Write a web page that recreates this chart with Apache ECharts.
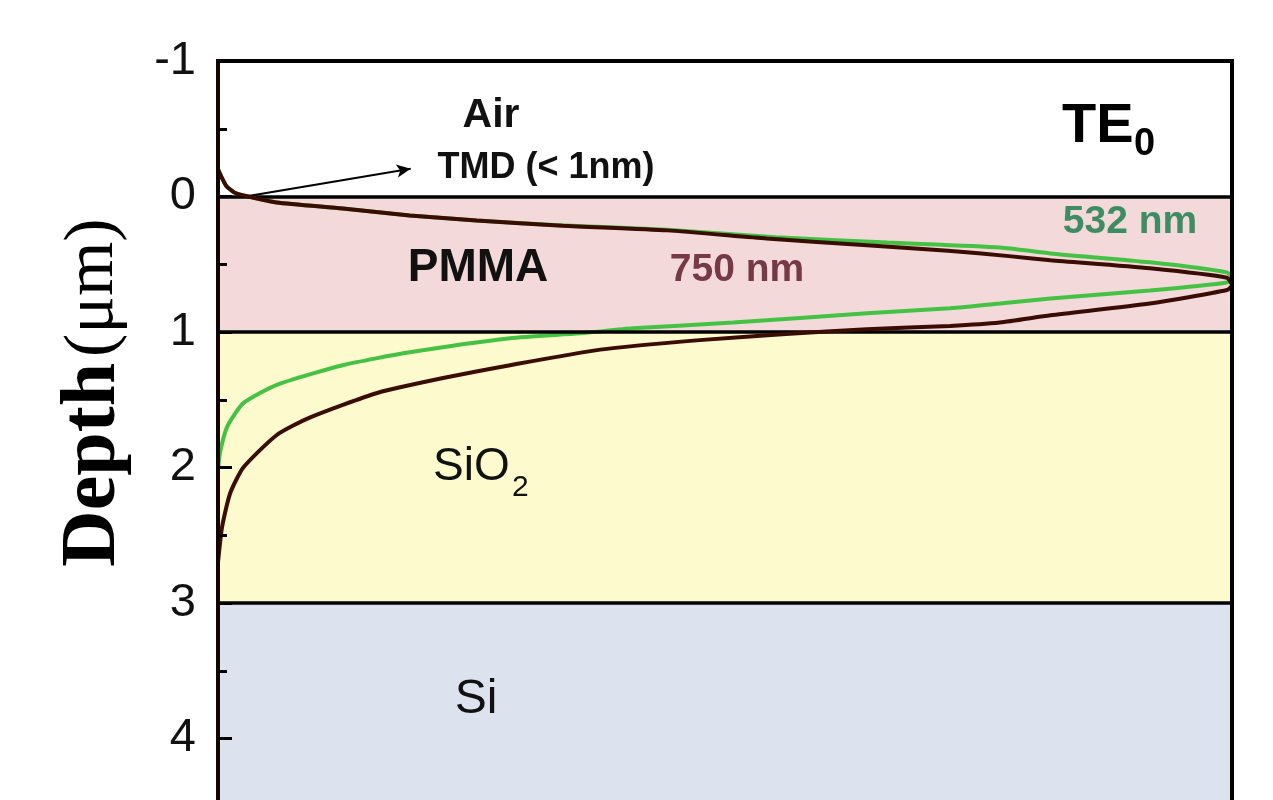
<!DOCTYPE html>
<html><head><meta charset="utf-8">
<script src="https://cdn.jsdelivr.net/npm/echarts@6/dist/echarts.min.js"></script>
<style>html,body{margin:0;padding:0;background:#fff}#c{width:1273px;height:800px}</style>
</head><body><div id="c"></div>
<script>
// ---- data ----
const yTickValues = [-1, 0, 1, 2, 3, 4];
const layerNames = ['Air', 'PMMA', 'SiO2', 'Si'];
const layerTop = [-1, 0, 1, 3];
const layerBottom = [0, 1, 3, 5];
const boundaries = [0, 1, 3];

// 750 nm TE0 profile: depth (µm) and normalised field
const depth750 = [-0.20, -0.15, -0.08, -0.03, 0.00, 0.044, 0.088, 0.14, 0.177, 0.215, 0.25, 0.31, 0.36, 0.40, 0.44, 0.47, 0.53, 0.60, 0.655,
                  0.69, 0.79, 0.877, 0.93, 0.955, 0.98, 1.015, 1.06, 1.13, 1.245, 1.34, 1.45, 1.63, 1.76, 2.00, 2.19, 2.44, 2.70];
const field750 = [0.000, 0.003, 0.008, 0.016, 0.030, 0.058, 0.123, 0.189, 0.255, 0.340, 0.443, 0.541, 0.640, 0.720, 0.780, 0.821, 0.919, 0.995, 1.000,
                  0.995, 0.919, 0.821, 0.771, 0.722, 0.640, 0.560, 0.475, 0.377, 0.288, 0.222, 0.157, 0.091, 0.058, 0.025, 0.012, 0.004, 0.000];

// 532 nm TE0 profile
const depth532 = [-0.20, -0.15, -0.08, -0.03, 0.00, 0.044, 0.088, 0.14, 0.177, 0.21, 0.245, 0.30, 0.34, 0.376, 0.42, 0.486, 0.56, 0.60,
                  0.634, 0.693, 0.752, 0.79, 0.825, 0.862, 0.93, 0.973, 1.01, 1.046, 1.15, 1.245, 1.39, 1.525, 1.70, 1.89, 2.02];
const field532 = [0.000, 0.003, 0.008, 0.016, 0.030, 0.058, 0.123, 0.189, 0.255, 0.330, 0.443, 0.550, 0.660, 0.771, 0.821, 0.919, 0.995, 1.000,
                  0.995, 0.919, 0.821, 0.771, 0.722, 0.640, 0.508, 0.409, 0.357, 0.288, 0.189, 0.123, 0.058, 0.025, 0.009, 0.002, 0.000];

const layerColors = ['#ffffff', '#f3d9d9', '#fdfbcd', '#dce3ef'];
const pairs = (xs, ys) => xs.map((d, i) => [ys[i], d]);

const chart = echarts.init(document.getElementById('c'), null, {renderer: 'canvas'});
const sans = '"Liberation Sans", Arial, sans-serif';
const narrow = '"Liberation Sans Narrow", "Liberation Sans", Arial, sans-serif';
const serif = '"Liberation Serif", "Times New Roman", serif';

chart.setOption({
  animation: false,
  backgroundColor: '#ffffff',
  grid: {left: 218, right: 41, top: 61, bottom: -74, show: true, z: 10, borderColor: '#000', borderWidth: 4,
         backgroundColor: 'transparent', outerBoundsMode: 'none', containLabel: false},
  xAxis: {type: 'value', min: 0, max: 1, show: false},
  yAxis: {
    type: 'value', inverse: true, min: -1, max: 5, interval: 1, z: 11,
    axisLine: {show: true, lineStyle: {color: '#140400', width: 4}},
    axisTick: {show: true, inside: true, length: 14, lineStyle: {color: '#000', width: 3}},
    minorTick: {show: true, splitNumber: 2, length: 9, lineStyle: {color: '#000', width: 3}},
    splitLine: {show: false},
    axisLabel: {
      fontSize: 47, color: '#111', margin: 22, fontFamily: sans,
      formatter: v => yTickValues.indexOf(v) >= 0 ? String(v) : ''
    },
    name: '{b|Depth}{r|(μm)}',
    nameLocation: 'middle', nameRotate: 90, nameGap: 85,
    nameTextStyle: {
      padding: [0, 0, 0, 150],
      rich: {
        b: {fontFamily: serif, fontWeight: 'bold', fontSize: 78, color: '#000'},
        r: {fontFamily: serif, fontSize: 70, color: '#000', padding: [0, 0, 0, 6]}
      }
    }
  },
  series: [
    {
      type: 'line', name: 'layers', data: [], z: 1, silent: true,
      markArea: {
        silent: true,
        data: layerNames.map((n, i) => [
          {yAxis: layerTop[i], itemStyle: {color: layerColors[i], opacity: 1}},
          {yAxis: layerBottom[i]}
        ])
      }
    },
    {
      type: 'line', name: '532 nm', data: pairs(depth532, field532), z: 4,
      showSymbol: false, smooth: 0.2,
      lineStyle: {color: '#44c244', width: 4}
    },
    {
      type: 'line', name: '750 nm', data: pairs(depth750, field750), z: 5,
      showSymbol: false, smooth: 0.2,
      lineStyle: {color: '#3a0c04', width: 4}
    },
    {
      type: 'line', name: 'boundaries', data: [], z: 6, silent: true,
      markLine: {
        silent: true, symbol: ['none', 'none'], label: {show: false},
        lineStyle: {color: '#000', width: 3.5, type: 'solid'},
        data: boundaries.map(b => ({yAxis: b}))
      }
    },
    {
      type: 'line', name: 'arrow', data: [], z: 7, silent: true,
      markLine: {
        silent: true, symbol: ['none', 'arrow'], symbolSize: [10, 14], label: {show: false},
        lineStyle: {color: '#000', width: 2, type: 'solid'},
        data: [[{coord: [0.027, 0.0]}, {coord: [0.19, -0.205]}]]
      }
    }
  ],
  graphic: [
    {type: 'text', x: 491, y: 116, z: 100, style: {text: 'Air', font: 'bold 41px ' + sans, fill: '#111', align: 'center', verticalAlign: 'middle'}},
    {type: 'text', x: 546, y: 168, z: 100, style: {text: 'TMD (< 1nm)', font: 'bold 36px ' + narrow, fill: '#111', align: 'center', verticalAlign: 'middle'}},
    {type: 'text', x: 1062, y: 127, z: 100, style: {text: 'TE', font: 'bold 56px ' + sans, fill: '#000', align: 'left', verticalAlign: 'middle'}},
    {type: 'text', x: 1134, y: 145, z: 100, style: {text: '0', font: 'bold 38px ' + narrow, fill: '#000', align: 'left', verticalAlign: 'middle'}},
    {type: 'text', x: 1130, y: 222, z: 100, style: {text: '532 nm', font: 'bold 39px ' + narrow, fill: '#3e8c63', align: 'center', verticalAlign: 'middle'}},
    {type: 'text', x: 737, y: 270, z: 100, style: {text: '750 nm', font: 'bold 39px ' + narrow, fill: '#753a44', align: 'center', verticalAlign: 'middle'}},
    {type: 'text', x: 478, y: 268, z: 100, style: {text: 'PMMA', font: 'bold 46px ' + sans, fill: '#111', align: 'center', verticalAlign: 'middle'}},
    {type: 'text', x: 433, y: 467, z: 100, style: {text: 'SiO', font: '46px ' + sans, fill: '#111', align: 'left', verticalAlign: 'middle'}},
    {type: 'text', x: 512, y: 488, z: 100, style: {text: '2', font: '30px ' + sans, fill: '#111', align: 'left', verticalAlign: 'middle'}},
    {type: 'text', x: 476, y: 700, z: 100, style: {text: 'Si', font: '48px ' + sans, fill: '#111', align: 'center', verticalAlign: 'middle'}}
  ]
});
</script>
</body></html>
